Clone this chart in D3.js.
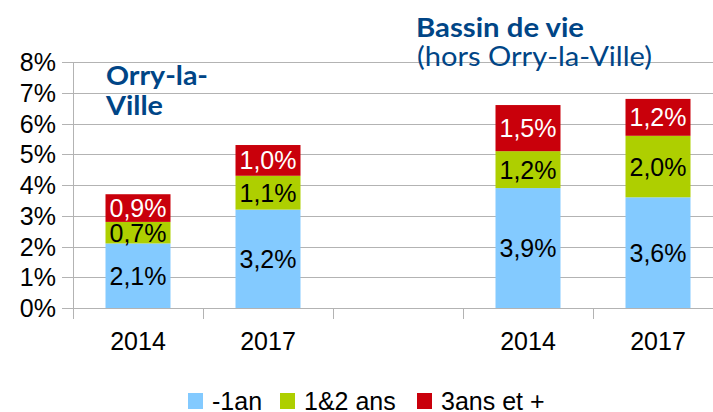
<!DOCTYPE html>
<html>
<head>
<meta charset="utf-8">
<script src="https://cdn.jsdelivr.net/npm/d3@7"></script>
<style>
  body { margin: 0; background: #fff; }
  svg text { font-family: "Liberation Sans", Arial, sans-serif; }
</style>
</head>
<body>
<div id="chart"></div>
<script>
// data
var categories = ["a", "b", "c", "d", "e"];
var yearLabels = ["2014", "2017", "", "2014", "2017"];
var seriesNames = ["-1an", "1&2 ans", "3ans et +"];
var seriesColors = ["#83caff", "#aecf00", "#c9000b"];
var labelColors = ["#000", "#000", "#fff"];
var moins1an = [2.1, 3.2, null, 3.9, 3.6];
var uneDeuxAns = [0.7, 1.1, null, 1.2, 2.0];
var troisAnsPlus = [0.9, 1.0, null, 1.5, 1.2];
var yTicks = [0, 1, 2, 3, 4, 5, 6, 7, 8];

var width = 713, height = 412;
var margin = {top: 62, left: 73, bottom: 104};
var plotW = 650, plotH = height - margin.top - margin.bottom;

var svg = d3.select("#chart")
    .append("svg")
    .attr("width", width)
    .attr("height", height);

var g = svg.append("g")
    .attr("transform", "translate(" + margin.left + "," + margin.top + ")");

var x = d3.scaleBand()
    .domain(categories)
    .range([0, plotW])
    .paddingInner(0.5)
    .paddingOuter(0.25);

var y = d3.scaleLinear()
    .domain([0, 8])
    .range([plotH, 0]);

// gridlines
g.selectAll(".grid")
    .data(yTicks)
    .enter()
    .append("line")
    .attr("x1", -11)
    .attr("x2", plotW)
    .attr("y1", function(d) { return Math.round(y(d)) + 0.5; })
    .attr("y2", function(d) { return Math.round(y(d)) + 0.5; })
    .attr("stroke", "#b3b3b3")
    .attr("stroke-width", 1);

// y axis line
g.append("line")
    .attr("x1", 0.5).attr("x2", 0.5)
    .attr("y1", 0).attr("y2", plotH + 11)
    .attr("stroke", "#b3b3b3");

// y labels
g.selectAll(".ylab")
    .data(yTicks)
    .enter()
    .append("text")
    .attr("x", -17)
    .attr("y", function(d) { return y(d); })
    .attr("dy", "0.36em")
    .attr("text-anchor", "end")
    .attr("font-size", 25)
    .attr("fill", "#000")
    .text(function(d) { return d + "%"; });

// x ticks between categories
g.selectAll(".xtick")
    .data(categories.slice(1))
    .enter()
    .append("line")
    .attr("x1", function(d) { return Math.round(x(d) - x.bandwidth() / 2) + 0.5; })
    .attr("x2", function(d) { return Math.round(x(d) - x.bandwidth() / 2) + 0.5; })
    .attr("y1", plotH)
    .attr("y2", plotH + 11)
    .attr("stroke", "#b3b3b3");

// x labels
g.selectAll(".xlab")
    .data(categories)
    .enter()
    .append("text")
    .attr("x", function(d) { return x(d) + x.bandwidth() / 2; })
    .attr("y", plotH + 42)
    .attr("text-anchor", "middle")
    .attr("font-size", 25)
    .text(function(d, i) { return yearLabels[i]; });

// stacked bars
var rows = categories.map(function(c, i) {
  return {cat: c, s0: moins1an[i], s1: uneDeuxAns[i], s2: troisAnsPlus[i]};
}).filter(function(r) { return r.s0 != null; });

var stack = d3.stack().keys(["s0", "s1", "s2"]);
var layers = stack(rows);

var fmt = function(v) { return v.toFixed(1).replace(".", ",") + "%"; };

layers.forEach(function(layer, li) {
  g.selectAll(".bar" + li)
      .data(layer)
      .enter()
      .append("rect")
      .attr("x", function(d) { return x(d.data.cat); })
      .attr("y", function(d) { return y(d[1]); })
      .attr("width", x.bandwidth())
      .attr("height", function(d) { return y(d[0]) - y(d[1]); })
      .attr("fill", seriesColors[li]);

  g.selectAll(".lab" + li)
      .data(layer)
      .enter()
      .append("text")
      .attr("x", function(d) { return x(d.data.cat) + x.bandwidth() / 2; })
      .attr("y", function(d) { return (y(d[0]) + y(d[1])) / 2; })
      .attr("dy", "0.36em")
      .attr("text-anchor", "middle")
      .attr("font-size", 25)
      .attr("fill", labelColors[li])
      .text(function(d) { return fmt(d[1] - d[0]); });
});

// titles (wide Calibri-like face, approximated with stretched Lato)
function title(txt, tx, ty, w, bold) {
  svg.append("text")
      .attr("x", tx).attr("y", ty)
      .attr("font-size", 26)
      .attr("font-weight", bold ? "bold" : "normal")
      .attr("fill", "#004586")
      .attr("textLength", w)
      .attr("lengthAdjust", "spacingAndGlyphs")
      .style("font-family", "Lato, sans-serif")
      .text(txt);
}
title("Orry-la-", 106, 85, 102, true);
title("Ville", 106, 115, 57, true);
title("Bassin de vie", 416, 37, 168, true);
title("(hors Orry-la-Ville)", 417, 66, 235, false);

// legend
var legendX = [188, 280, 417];
var legend = svg.selectAll(".legend")
    .data(seriesNames)
    .enter()
    .append("g")
    .attr("transform", function(d, i) { return "translate(" + legendX[i] + ",393)"; });

legend.append("rect")
    .attr("width", 15)
    .attr("height", 16)
    .attr("fill", function(d, i) { return seriesColors[i]; });

legend.append("text")
    .attr("x", 24)
    .attr("y", 8)
    .attr("dy", "0.36em")
    .attr("font-size", 25)
    .text(function(d) { return d; });
</script>
</body>
</html>
